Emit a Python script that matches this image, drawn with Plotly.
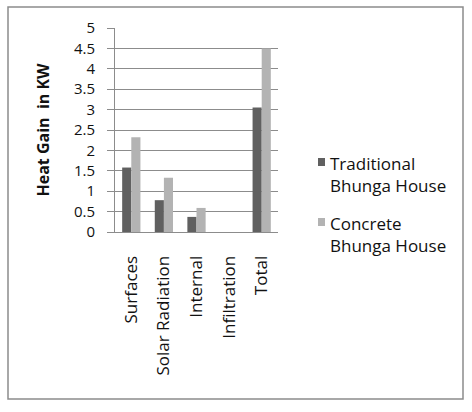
import plotly.graph_objects as go

categories = ["Surfaces", "Solar Radiation", "Internal", "Infiltration", "Total"]
traditional = [1.58, 0.78, 0.37, 0, 3.05]
concrete = [2.32, 1.33, 0.59, 0, 4.5]
series_names = ["Traditional<br>Bhunga House", "Concrete<br>Bhunga House"]
series_colors = ["#606060", "#b3b3b3"]
y_ticks = [0, 0.5, 1, 1.5, 2, 2.5, 3, 3.5, 4, 4.5, 5]

W, H = 472, 412
L, R, T, B = 115, 278, 28, 232

font_family = "Open Sans, Liberation Sans, sans-serif"
gray = "#8c8c8c"


def px_to_paper_x(px):
    return (px - L) / (R - L)


def px_to_paper_y(py):
    return (B - py) / (B - T)


fig = go.Figure()
for vals, name, col in zip([traditional, concrete], series_names, series_colors):
    fig.add_trace(go.Bar(x=categories, y=vals, name=name,
                         marker=dict(color=col, line=dict(width=0))))

# manual legend (small squares + two-line labels)
legend_rows_px = [174, 234]
shapes = [dict(type="rect", xref="paper", yref="paper",
               x0=px_to_paper_x(8), x1=px_to_paper_x(463),
               y0=px_to_paper_y(399), y1=px_to_paper_y(7),
               line=dict(color="#8c8c8c", width=1.5), fillcolor="rgba(0,0,0,0)",
               layer="below")]
annotations = []
for row, name, col in zip(legend_rows_px, series_names, series_colors):
    top = row - 16
    shapes.append(dict(type="rect", xref="paper", yref="paper",
                       x0=px_to_paper_x(318), x1=px_to_paper_x(325),
                       y0=px_to_paper_y(top + 8), y1=px_to_paper_y(top),
                       line=dict(width=0), fillcolor=col))
    annotations.append(dict(text=name, xref="paper", yref="paper",
                            x=px_to_paper_x(328), y=px_to_paper_y(row),
                            xanchor="left", yanchor="middle", align="left",
                            showarrow=False, font=dict(size=17, color="#111111")))

fig.update_layout(
    width=W, height=H,
    margin=dict(l=L, r=W - R, t=T, b=H - B, pad=0),
    paper_bgcolor="white", plot_bgcolor="white",
    barmode="group", bargap=0.44, bargroupgap=0,
    font=dict(family=font_family, size=17, color="#111111"),
    showlegend=False,
    xaxis=dict(tickangle=-90, showgrid=False, showline=True, linecolor=gray,
               linewidth=1, ticks="", tickfont=dict(size=17), fixedrange=True,
               ticklabelstandoff=16),
    yaxis=dict(range=[0, 5], tickvals=y_ticks, ticktext=[f"{v:g}" for v in y_ticks],
               showgrid=True, gridcolor=gray, gridwidth=1,
               showline=True, linecolor=gray, linewidth=1,
               ticks="outside", ticklen=7, tickcolor=gray, tickwidth=1,
               tickfont=dict(size=15), zeroline=False, ticklabelstandoff=9,
               title=dict(text="<b>Heat Gain  in KW</b>", font=dict(size=16), standoff=20)),
    shapes=shapes,
    annotations=annotations,
)

fig.write_html("out.html")
